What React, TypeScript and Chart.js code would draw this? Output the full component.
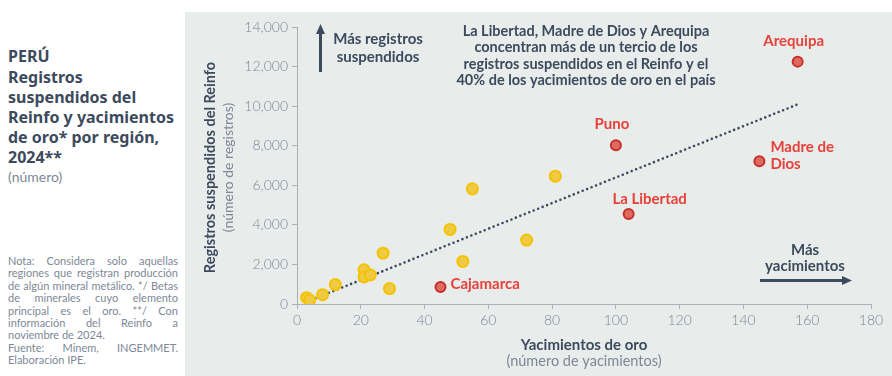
import React, { useEffect, useRef } from "react";
import { Chart, registerables } from "chart.js";

Chart.register(...registerables);

// ---- data ----
const otherDeposits = [3, 4, 8, 12, 21, 21, 23, 27, 29, 48, 52, 55, 72, 81];
const otherRecords = [320, 200, 470, 980, 1730, 1370, 1470, 2570, 780, 3770, 2150, 5820, 3230, 6460];
const highlightRegions = ["Arequipa", "Puno", "Madre de Dios", "La Libertad", "Cajamarca"];
const highlightDeposits = [157, 100, 145, 104, 45];
const highlightRecords = [12250, 8020, 7210, 4550, 860];
const trendDeposits = [3, 157];
const trendRecords = [110, 10090];
const xTickValues = [0, 20, 40, 60, 80, 100, 120, 140, 160, 180];
const yTickValues = [0, 2000, 4000, 6000, 8000, 10000, 12000, 14000];

const titleLines = ["Registros", "suspendidos del", "Reinfo y yacimientos", "de oro* por región,", "2024**"];
const noteLines = [
  "Nota: Considera solo aquellas",
  "regiones que registran producción",
  "de algún mineral metálico. */ Betas",
  "de minerales cuyo elemento",
  "principal es el oro. **/ Con",
  "información del Reinfo a",
  "noviembre de 2024.",
  "Fuente: Minem, INGEMMET.",
  "Elaboración IPE.",
];
const noteLastLines = [6, 8];
const annotationLines = [
  "La Libertad, Madre de Dios y Arequipa",
  "concentran más de un tercio de los",
  "registros suspendidos en el Reinfo y el",
  "40% de los yacimientos de oro en el país",
];

const NAVY = "#3c4a5d";
const RED = "#e8403a";
const GRAY = "#7d8896";
const AXIS = "#a9b0b7";
const FONT = "Lato, 'Noto Sans', sans-serif";
const TITLE_FONT = "'Noto Sans', Lato, sans-serif";

// label placement (style) relative to highlighted points: [dx, dy, align]
const labelPlacement: Record<string, [number, number, CanvasTextAlign]> = {
  Arequipa: [-4, -20, "center"],
  Puno: [-4, -21, "center"],
  "Madre de Dios": [11, -14, "left"],
  "La Libertad": [21, -15, "center"],
  Cajamarca: [10, -3, "left"],
};

const annotationPlugin = {
  id: "annotationPlugin",
  afterDraw(chart: any) {
    const ctx: CanvasRenderingContext2D = chart.ctx;
    const xs = chart.scales.x;
    const ys = chart.scales.y;
    const area = chart.chartArea;
    ctx.save();
    ctx.textBaseline = "middle";

    // Axis titles
    const midY = (area.top + area.bottom) / 2 + 2;
    ctx.fillStyle = NAVY;
    ctx.font = `bold 14.5px ${FONT}`;
    ctx.save();
    ctx.translate(25, midY);
    ctx.rotate(-Math.PI / 2);
    ctx.textAlign = "center";
    ctx.fillText("Registros suspendidos del Reinfo", 0, 0);
    ctx.restore();
    ctx.save();
    ctx.fillStyle = GRAY;
    ctx.font = `14px ${FONT}`;
    ctx.translate(43, midY);
    ctx.rotate(-Math.PI / 2);
    ctx.textAlign = "center";
    ctx.fillText("(número de registros)", 0, 0);
    ctx.restore();

    const midX = (area.left + area.right) / 2;
    ctx.textAlign = "center";
    ctx.fillStyle = NAVY;
    ctx.font = `bold 15px ${FONT}`;
    ctx.fillText("Yacimientos de oro", midX, 333);
    ctx.fillStyle = GRAY;
    ctx.font = `14.5px ${FONT}`;
    ctx.fillText("(número de yacimientos)", midX, 349);

    // Up arrow + text
    ctx.strokeStyle = NAVY;
    ctx.fillStyle = NAVY;
    ctx.lineWidth = 3;
    ctx.beginPath();
    ctx.moveTo(135.5, 60);
    ctx.lineTo(135.5, 20);
    ctx.stroke();
    ctx.beginPath();
    ctx.moveTo(135.5, 12);
    ctx.lineTo(131, 22);
    ctx.lineTo(140, 22);
    ctx.closePath();
    ctx.fill();
    ctx.font = `bold 15px ${FONT}`;
    ctx.textAlign = "center";
    ctx.fillText("Más registros", 193, 27);
    ctx.fillText("suspendidos", 193, 45);

    // main annotation
    ctx.font = `bold 14.5px ${FONT}`;
    annotationLines.forEach((l, i) => ctx.fillText(l, 401, 19 + i * 16.5));

    // right arrow + text
    ctx.font = `bold 15px ${FONT}`;
    ctx.fillText("Más", 620, 238);
    ctx.fillText("yacimientos", 620, 254);
    ctx.beginPath();
    ctx.moveTo(575, 268.5);
    ctx.lineTo(658, 268.5);
    ctx.stroke();
    ctx.beginPath();
    ctx.moveTo(667, 268.5);
    ctx.lineTo(657, 264);
    ctx.lineTo(657, 273);
    ctx.closePath();
    ctx.fill();

    // red labels
    ctx.fillStyle = RED;
    ctx.font = `bold 15px ${FONT}`;
    highlightRegions.forEach((name, i) => {
      const px = xs.getPixelForValue(highlightDeposits[i]);
      const py = ys.getPixelForValue(highlightRecords[i]);
      const [dx, dy, align] = labelPlacement[name];
      ctx.textAlign = align;
      if (name === "Madre de Dios") {
        ctx.fillText("Madre de", px + dx, py + dy);
        ctx.fillText("Dios", px + dx, py + dy + 17);
      } else {
        ctx.fillText(name, px + dx, py + dy);
      }
    });
    ctx.restore();
  },
};

function ChartCanvas() {
  const ref = useRef<HTMLCanvasElement>(null);
  useEffect(() => {
    if (!ref.current) return;
    const chart = new Chart(ref.current, {
      type: "scatter",
      data: {
        datasets: [
          {
            type: "line",
            label: "Tendencia",
            data: trendDeposits.map((x, i) => ({ x, y: trendRecords[i] })),
            borderColor: NAVY,
            borderWidth: 2.6,
            borderDash: [0, 4.8],
            borderCapStyle: "round",
            pointRadius: 0,
            fill: false,
            order: 3,
          } as any,
          {
            label: "Regiones",
            data: otherDeposits.map((x, i) => ({ x, y: otherRecords[i] })),
            backgroundColor: "#efcb45",
            borderColor: "#f5c200",
            borderWidth: 2,
            pointRadius: 5.5,
            order: 2,
          },
          {
            label: "Regiones destacadas",
            data: highlightDeposits.map((x, i) => ({ x, y: highlightRecords[i] })),
            backgroundColor: "#e06a5f",
            borderColor: "#c5302a",
            borderWidth: 2,
            pointRadius: 5,
            order: 1,
          },
        ],
      },
      options: {
        animation: false,
        responsive: false,
        locale: "en-US",
        layout: { padding: { top: 15, right: 21, bottom: 0, left: 0 } },
        plugins: { legend: { display: false }, tooltip: { enabled: false } },
        scales: {
          x: {
            type: "linear",
            min: 0,
            max: 180,
            afterBuildTicks: (s: any) => {
              s.ticks = xTickValues.map((v) => ({ value: v }));
            },
            afterFit: (s: any) => {
              s.height = 72;
            },
            ticks: { color: GRAY, font: { family: FONT, size: 14, weight: "300" as any }, padding: 3 },
            grid: { drawOnChartArea: false, drawTicks: true, tickLength: 5, color: AXIS },
            border: { display: true, color: AXIS },
          },
          y: {
            type: "linear",
            min: 0,
            max: 14000,
            afterBuildTicks: (s: any) => {
              s.ticks = yTickValues.map((v) => ({ value: v }));
            },
            afterFit: (s: any) => {
              s.width = 112;
            },
            ticks: { color: GRAY, font: { family: FONT, size: 14, weight: "300" as any }, padding: 4 },
            grid: { drawOnChartArea: false, drawTicks: true, tickLength: 5, color: AXIS },
            border: { display: true, color: AXIS },
          },
        },
      },
      plugins: [annotationPlugin],
    });
    return () => chart.destroy();
  }, []);
  return <canvas ref={ref} width={707} height={364} style={{ display: "block", width: 707, height: 364 }} />;
}

export default function App() {
  return (
    <div style={{ position: "fixed", left: 0, top: 0, width: 892, height: 376, background: "#ffffff", fontFamily: FONT, overflow: "hidden" }}>
      <div style={{ position: "absolute", left: 8, top: 46, width: 180, color: NAVY, fontFamily: TITLE_FONT }}>
        <div style={{ fontWeight: 700, fontSize: 16, lineHeight: "21px" }}>PERÚ</div>
        {titleLines.map((l) => (
          <div key={l} style={{ fontWeight: 700, fontSize: 16, lineHeight: "20px", whiteSpace: "nowrap" }}>{l}</div>
        ))}
        <div style={{ fontSize: 14, lineHeight: "20px", color: GRAY, fontFamily: FONT }}>(número)</div>
      </div>
      <div style={{ position: "absolute", left: 8, top: 255, width: 170, color: GRAY, fontSize: 11, lineHeight: "12.4px" }}>
        {noteLines.map((l, i) => (
          <div
            key={l}
            style={{
              whiteSpace: "nowrap",
              textAlign: noteLastLines.includes(i) ? "left" : "justify",
              textAlignLast: noteLastLines.includes(i) ? "left" : "justify",
            }}
          >
            {l}
          </div>
        ))}
      </div>
      <div style={{ position: "absolute", left: 185, top: 12, width: 707, height: 364, background: "#e8eceb" }}>
        <ChartCanvas />
      </div>
    </div>
  );
}
